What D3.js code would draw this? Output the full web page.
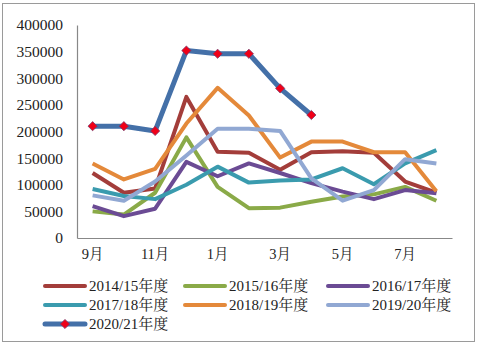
<!DOCTYPE html>
<html><head><meta charset="utf-8">
<script src="https://cdn.jsdelivr.net/npm/d3@7"></script>
<style>body{margin:0;background:#fff}svg{display:block}</style>
</head><body>
<svg id="c" width="480" height="348"></svg>
<script>
const months = ["9月","10月","11月","12月","1月","2月","3月","4月","5月","6月","7月","8月"];
const tickLabels = ["9月","11月","1月","3月","5月","7月"];
const yTicks = [0,50000,100000,150000,200000,250000,300000,350000,400000];
const seriesNames = ["2014/15年度","2015/16年度","2016/17年度","2017/18年度","2018/19年度","2019/20年度","2020/21年度"];
const colors = ["#A33D3A","#8AAA48","#6B4B94","#3A9BAE","#E4893A","#91A8D3","#4470A8"];
const s2014 = [122000,85000,93000,265000,162000,160000,128000,161000,163000,160000,106000,85000];
const s2015 = [50000,44000,85000,189000,96000,56000,57000,68000,78000,82000,96000,70000];
const s2016 = [60000,41000,55000,143000,116000,140000,122000,103000,87000,73000,90000,84000];
const s2017 = [92000,79000,73000,100000,134000,104000,108000,110000,131000,101000,140000,165000];
const s2018 = [140000,110000,130000,215000,282000,230000,151000,181000,181000,161000,161000,88000];
const s2019 = [80000,70000,106000,155000,205000,205000,201000,112000,70000,90000,148000,140000];
const s2020 = [210000,210000,201000,352000,346000,346000,281000,231000];
const allSeries = [s2014,s2015,s2016,s2017,s2018,s2019,s2020];

const svg = d3.select("#c");
const font = "'Liberation Serif','Times New Roman','Noto Serif CJK SC','Noto Sans CJK SC',serif";

svg.append("rect").attr("x",2.5).attr("y",3.5).attr("width",472).attr("height",338)
  .attr("fill","#fff").attr("stroke","#9a9a9a").attr("stroke-width",1);

const x = d3.scaleBand().domain(months).range([77,452]);
const y = d3.scaleLinear().domain([0,400000]).range([238,25]);

const yAxis = d3.axisLeft(y).tickValues(yTicks).tickSize(0).tickPadding(14).tickFormat(d3.format("d"));
const gy = svg.append("g").attr("transform","translate(77,0)").call(yAxis);
gy.select(".domain").attr("stroke","#888").attr("stroke-width",1.2);
gy.selectAll("text").attr("font-family",font).attr("font-size",15.5).attr("fill","#222");

const xAxis = d3.axisBottom(x).tickValues(tickLabels).tickSize(0).tickPadding(11);
const gx = svg.append("g").attr("transform","translate(0,238)").call(xAxis);
gx.select(".domain").attr("stroke","#888").attr("stroke-width",1.2);
gx.selectAll("text").attr("font-family",font).attr("font-size",14.5).attr("fill","#222");

const line = d3.line().x((d,i)=>x(months[i])+x.bandwidth()/2).y(d=>y(d));

allSeries.forEach((s,k)=>{
  svg.append("path").datum(s).attr("d",line).attr("fill","none")
    .attr("stroke",colors[k]).attr("stroke-width",k===6?5:4).attr("stroke-linejoin","round");
});

const diamondPath = "M0,-4.6L4.6,0L0,4.6L-4.6,0Z";
svg.selectAll(".mk").data(s2020).join("path").attr("class","mk")
  .attr("transform",(d,i)=>`translate(${x(months[i])+x.bandwidth()/2},${y(d)})`)
  .attr("d",diamondPath).attr("fill","#F00018").attr("stroke","#7a3a6a").attr("stroke-width",0.8);

const legPos = [[45,286],[185,286],[328,286],[45,305],[185,305],[328,305],[45,324]];
seriesNames.forEach((n,k)=>{
  const [lx,ly] = legPos[k];
  const g = svg.append("g");
  g.append("line").attr("x1",lx).attr("x2",lx+40).attr("y1",ly).attr("y2",ly)
    .attr("stroke",colors[k]).attr("stroke-width",k===6?5:4).attr("stroke-linecap","round");
  if(k===6){
    g.append("path").attr("transform",`translate(${lx+20},${ly})`).attr("d",diamondPath)
      .attr("fill","#F00018").attr("stroke","#7a3a6a").attr("stroke-width",0.8);
  }
  g.append("text").attr("x",lx+44).attr("y",ly).attr("dy","0.35em")
    .attr("font-family",font).attr("font-size",15).attr("fill","#222").text(n);
});
</script>
</body></html>
